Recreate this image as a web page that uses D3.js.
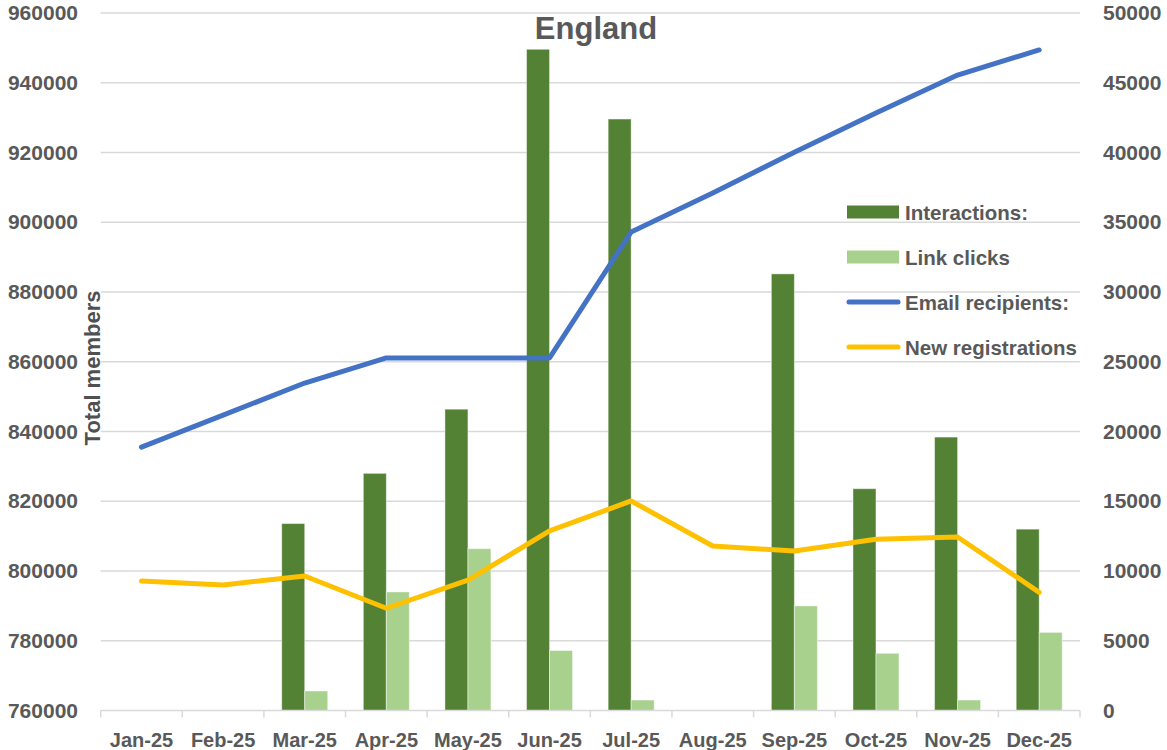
<!DOCTYPE html>
<html>
<head>
<meta charset="utf-8">
<script src="https://cdn.jsdelivr.net/npm/d3@7"></script>
<style>
    body { margin: 0; background: #fff; }
    svg { display: block; }
    text { font-family: "Liberation Sans", Arial, sans-serif; fill: #595959; }
</style>
</head>
<body>
<svg id="chart" width="1167" height="750"></svg>
<script>
var months = ["Jan-25", "Feb-25", "Mar-25", "Apr-25", "May-25", "Jun-25",
              "Jul-25", "Aug-25", "Sep-25", "Oct-25", "Nov-25", "Dec-25"];
var interactions = [null, null, 13400, 17000, 21600, 47400, 42400, null, 31300, 15900, 19600, 13000];
var linkClicks = [null, null, 1400, 8500, 11600, 4300, 750, null, 7500, 4100, 750, 5600];
var emailRecipients = [835500, 844700, 853900, 861100, 861100, 861100, 897200, 908400, 920100, 931300, 942200, 949400];
var newRegistrations = [9280, 9000, 9640, 7330, 9350, 12870, 15020, 11790, 11430, 12270, 12440, 8470];
var leftTicks = [760000, 780000, 800000, 820000, 840000, 860000, 880000, 900000, 920000, 940000, 960000];
var rightTicks = [0, 5000, 10000, 15000, 20000, 25000, 30000, 35000, 40000, 45000, 50000];

var colors = {
    interactions: "#548235",
    clicks: "#A9D18E",
    email: "#4472C4",
    registrations: "#FFC000"
};

drawChart();

function drawChart() {
    var svg = d3.select("#chart");
    var left = 100.7, right = 1080, top = 13, bottom = 710.5;

    var x = d3.scaleBand().domain(months).range([left, right])
        .paddingInner(0.436).paddingOuter(0.218);
    var xSub = d3.scaleBand().domain(["interactions", "clicks"]).range([0, x.bandwidth()]);
    var yLeft = d3.scaleLinear().domain([760000, 960000]).range([bottom, top]);
    var yRight = d3.scaleLinear().domain([0, 50000]).range([bottom, top]);

    // gridlines
    svg.append("g").selectAll("line").data(leftTicks.slice(1)).enter().append("line")
        .attr("x1", left).attr("x2", right)
        .attr("y1", function (d) { return yLeft(d); })
        .attr("y2", function (d) { return yLeft(d); })
        .attr("stroke", "#D9D9D9").attr("stroke-width", 1.3);

    // left axis labels
    var gl = svg.append("g").attr("transform", "translate(" + left + ",0)")
        .call(d3.axisLeft(yLeft).tickValues(leftTicks).tickFormat(d3.format("d"))
            .tickSize(0).tickPadding(22.7));
    gl.select(".domain").remove();
    gl.selectAll("text").attr("font-size", 21).attr("font-weight", "bold")
        .attr("font-family", null).attr("fill", null);

    // right axis labels
    var gr = svg.append("g").attr("transform", "translate(" + right + ",0)")
        .call(d3.axisRight(yRight).tickValues(rightTicks).tickFormat(d3.format("d"))
            .tickSize(0).tickPadding(23));
    gr.select(".domain").remove();
    gr.selectAll("text").attr("font-size", 21).attr("font-weight", "bold")
        .attr("font-family", null).attr("fill", null);

    // bars
    var groups = svg.append("g").selectAll("g").data(months).enter().append("g")
        .attr("transform", function (d) { return "translate(" + x(d) + ",0)"; });
    groups.selectAll("rect")
        .data(function (d, i) {
            return [
                { key: "interactions", value: interactions[i] },
                { key: "clicks", value: linkClicks[i] }
            ].filter(function (e) { return e.value != null; });
        })
        .enter().append("rect")
        .attr("x", function (d) { return xSub(d.key); })
        .attr("width", xSub.bandwidth())
        .attr("y", function (d) { return yRight(d.value); })
        .attr("height", function (d) { return yRight(0) - yRight(d.value); })
        .attr("fill", function (d) { return colors[d.key]; })
        .attr("stroke", "rgba(255,255,255,0.45)").attr("stroke-width", 1);

    // x axis
    var gx = svg.append("g").attr("transform", "translate(0," + bottom + ")")
        .call(d3.axisBottom(x).tickSize(0).tickPadding(22.3));
    gx.select(".domain").remove();
    gx.selectAll("text").attr("font-size", 20).attr("font-weight", "bold")
        .attr("font-family", null).attr("fill", null);
    svg.append("line").attr("x1", left).attr("x2", right)
        .attr("y1", bottom).attr("y2", bottom)
        .attr("stroke", "#D9D9D9").attr("stroke-width", 1.5);
    svg.append("g").selectAll("line").data(d3.range(months.length + 1)).enter().append("line")
        .attr("x1", function (i) { return left + i * x.step(); })
        .attr("x2", function (i) { return left + i * x.step(); })
        .attr("y1", bottom).attr("y2", bottom + 7)
        .attr("stroke", "#D9D9D9").attr("stroke-width", 1.5);

    // lines
    var cx = function (d, i) { return x(months[i]) + x.bandwidth() / 2; };
    svg.append("path").datum(emailRecipients)
        .attr("d", d3.line().x(cx).y(function (d) { return yLeft(d); }))
        .attr("fill", "none").attr("stroke", colors.email).attr("stroke-width", 5)
        .attr("stroke-linejoin", "round").attr("stroke-linecap", "round");
    svg.append("path").datum(newRegistrations)
        .attr("d", d3.line().x(cx).y(function (d) { return yRight(d); }))
        .attr("fill", "none").attr("stroke", colors.registrations).attr("stroke-width", 5)
        .attr("stroke-linejoin", "round").attr("stroke-linecap", "round");

    // title
    svg.append("text").attr("x", 596).attr("y", 39).attr("text-anchor", "middle")
        .attr("font-size", 31).attr("font-weight", "bold").text("England");

    // axis title
    svg.append("text").attr("transform", "translate(100,368) rotate(-90)")
        .attr("text-anchor", "middle").attr("font-size", 22).attr("font-weight", "bold")
        .style("fill", "#505050")
        .text("Total members");

    // legend
    var legendItems = [
        { label: "Interactions:", color: colors.interactions, kind: "bar" },
        { label: "Link clicks", color: colors.clicks, kind: "bar" },
        { label: "Email recipients:", color: colors.email, kind: "line" },
        { label: "New registrations", color: colors.registrations, kind: "line" }
    ];
    var lg = svg.append("g").selectAll("g").data(legendItems).enter().append("g")
        .attr("transform", function (d, i) { return "translate(847," + (212 + i * 45) + ")"; });
    lg.filter(function (d) { return d.kind == "bar"; }).append("rect")
        .attr("x", 0).attr("y", -6.5).attr("width", 52).attr("height", 13)
        .attr("fill", function (d) { return d.color; });
    lg.filter(function (d) { return d.kind == "line"; }).append("line")
        .attr("x1", 2).attr("x2", 51).attr("y1", 0).attr("y2", 0)
        .attr("stroke", function (d) { return d.color; }).attr("stroke-width", 5)
        .attr("stroke-linecap", "round");
    lg.append("text").attr("x", 58).attr("y", 7.5)
        .attr("font-size", 20.5).attr("font-weight", "bold")
        .text(function (d) { return d.label; });
}
</script>
</body>
</html>
